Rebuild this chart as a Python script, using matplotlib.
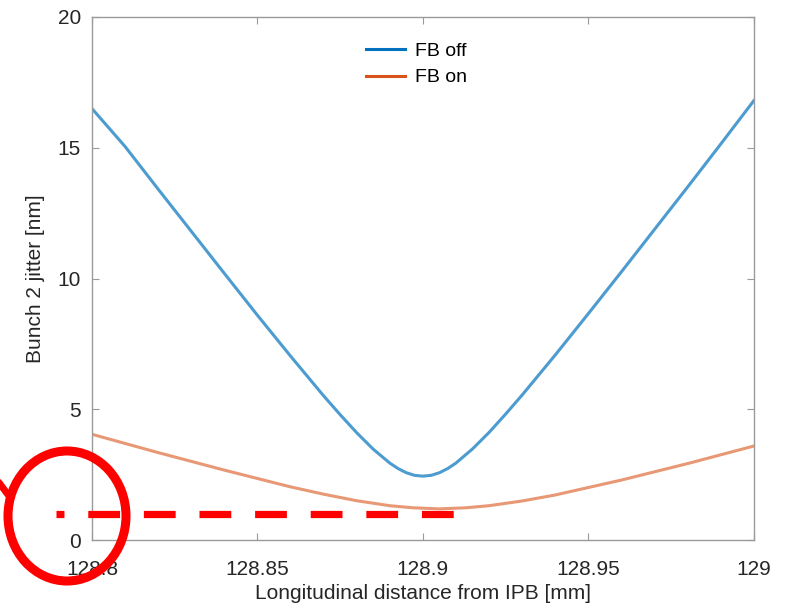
import numpy as np
import matplotlib.pyplot as plt
from matplotlib.patches import Ellipse
from matplotlib.lines import Line2D

# values
x_off = [128.80, 128.81, 128.82, 128.83, 128.84, 128.85, 128.86, 128.87, 128.875,
         128.88, 128.885, 128.89, 128.8925, 128.895, 128.8975, 128.90, 128.9025,
         128.905, 128.9075, 128.91, 128.915, 128.92,
         128.925, 128.93, 128.94, 128.95, 128.96, 128.97, 128.98, 128.99, 129.00]
y_off = [16.5, 15.05, 13.42, 11.81, 10.2, 8.6, 7.04, 5.52, 4.80,
         4.11, 3.48, 2.95, 2.74, 2.58, 2.48, 2.45, 2.48,
         2.58, 2.74, 2.95, 3.49, 4.12,
         4.82, 5.55, 7.08, 8.66, 10.26, 11.88, 13.5, 15.14, 16.8]

x_on = [128.80, 128.82, 128.84, 128.86, 128.87, 128.88, 128.89, 128.897, 128.905,
        128.913, 128.92, 128.93, 128.94, 128.96, 128.98, 129.00]
y_on = [4.05, 3.35, 2.68, 2.04, 1.76, 1.51, 1.32, 1.24, 1.2,
        1.24, 1.32, 1.50, 1.73, 2.30, 2.93, 3.6]

ref_x = [128.789, 128.91]
ref_y = [1.0, 1.0]

blue = '#0072BD'
orange = '#D95319'
txt = '#262626'
axc = '#9a9a9a'

plt.rcParams['font.family'] = ['Liberation Sans', 'DejaVu Sans']

fig = plt.figure(figsize=(7.86, 6.07), dpi=100)
ax = fig.add_axes([0.117, 0.110, 0.842, 0.862])

ax.plot(x_off, y_off, color=blue, lw=2.2, alpha=0.7)
ax.plot(x_on, y_on, color=orange, lw=2.2, alpha=0.6)

# red dashed reference line
ax.plot(ref_x, ref_y, color='red', lw=5.2, ls=(3.3, (4.4, 3.3)), dash_capstyle='butt',
        clip_on=False, zorder=5)

ax.set_xlim(128.8, 129)
ax.set_ylim(0, 20)
ax.set_xticks([128.8, 128.85, 128.9, 128.95, 129])
ax.set_xticklabels(['128.8', '128.85', '128.9', '128.95', '129'])
ax.set_yticks([0, 5, 10, 15, 20])

ax.tick_params(direction='in', length=5, width=0.8, colors=axc, labelcolor=txt,
               labelsize=15, top=True, right=True, pad=8)
ax.tick_params(axis='x', pad=14)
for s in ax.spines.values():
    s.set_color(axc)
    s.set_linewidth(1.0)

ax.set_xlabel('Longitudinal distance from IPB [mm]', fontsize=15, color=txt, labelpad=4)
ax.set_ylabel('Bunch 2 jitter [nm]', fontsize=15, color=txt, labelpad=9)

handles = [Line2D([], [], color=blue, lw=2.2), Line2D([], [], color=orange, lw=2.2)]
ax.legend(handles, ['FB off', 'FB on'], loc='upper center', bbox_to_anchor=(0.49, 0.985),
          frameon=False, fontsize=14, handlelength=2.0, handletextpad=0.5,
          labelspacing=0.45)

# red circle annotation (figure pixel coords)
H = 607
circ = Ellipse((67, H - 516), 118, 130, transform=None, fill=False,
               edgecolor='red', lw=6.5, zorder=10)
fig.patches.append(circ)
fig.add_artist(Line2D([0, 9], [H - 484, H - 496], transform=None, color='red', lw=5, zorder=10))

fig.savefig('out.png', dpi=100)
